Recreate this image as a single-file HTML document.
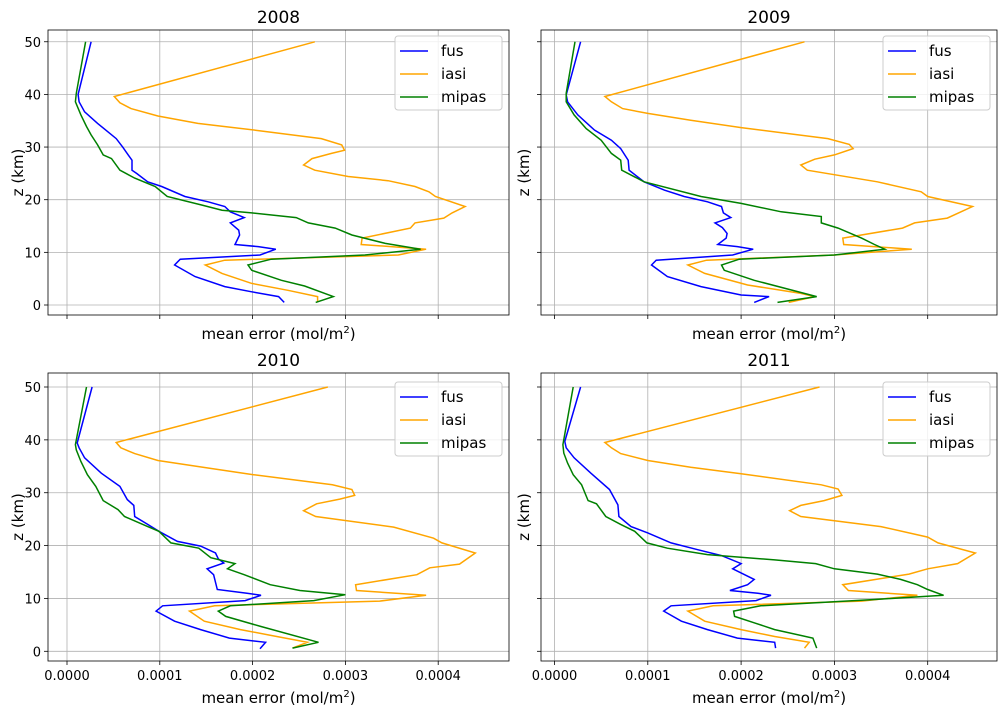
<!DOCTYPE html>
<html><head><meta charset="utf-8"><style>
html,body{margin:0;padding:0;background:#fff;}
svg{display:block;font-family:"DejaVu Sans","Liberation Sans",sans-serif;}
</style></head><body>
<svg id="chart" width="1008" height="716" viewBox="0 0 1008 716" xmlns="http://www.w3.org/2000/svg"></svg>
<script>
// values in units of 1e-4 mol/m^2, altitudes in km
const years = ["2008","2009","2010","2011"];
const xTicks = [0,1,2,3,4];
const xTickLabels = ["0.0000","0.0001","0.0002","0.0003","0.0004"];
const yTicks = [0,10,20,30,40,50];
const seriesNames = ["fus","iasi","mipas"];

const fus2008Z = [50,40,38.6,36.7,34.5,31.6,30,28.5,27.5,25.6,25,23.4,22.5,20.6,19.6,18.7,17.7,16.6,15.6,14.2,13.3,11.5,11.1,10.6,9.5,8.7,7.6,5.4,3.5,2.5,1.6,0.5];
const fus2008V = [0.26,0.12,0.13,0.19,0.33,0.53,0.60,0.66,0.70,0.70,0.75,0.87,1.02,1.27,1.52,1.70,1.76,1.91,1.76,1.85,1.86,1.81,2.06,2.25,2.08,1.22,1.16,1.38,1.70,1.99,2.28,2.34];
const iasi2008Z = [50,39.6,38.4,37.3,35.9,34.5,33.2,31.6,30.4,29.4,28.8,27.8,26.6,25.6,24.4,23.6,22.5,21.5,20.6,18.7,17.5,16.5,15.6,14.6,12.7,11.5,10.6,9.5,8.5,7.6,6,4.1,2.8,1.6,0.6];
const iasi2008V = [2.67,0.51,0.57,0.69,0.98,1.41,2.03,2.74,2.96,2.99,2.85,2.64,2.55,2.67,3.03,3.46,3.75,3.90,3.97,4.29,4.15,4.06,3.75,3.70,3.18,3.17,3.87,3.57,1.70,1.49,1.67,1.99,2.38,2.70,2.70];
const mipas2008Z = [50,40.2,38.6,36.1,33.9,32.3,30.4,28.5,27.8,25.6,24.1,22.5,20.6,19,18,17.5,16.6,15.6,14.6,13.3,11.7,10.6,9.5,8.7,7.6,6.6,4.7,3.6,1.6,0.5];
const mipas2008V = [0.20,0.10,0.09,0.15,0.21,0.26,0.33,0.39,0.48,0.57,0.73,0.95,1.08,1.45,1.67,1.99,2.47,2.60,2.89,3.07,3.43,3.81,3.21,2.20,1.95,1.99,2.31,2.56,2.87,2.68];

const fus2009Z = [50,39.9,38.6,36.1,33.2,31.3,29.7,27.5,25.6,23.4,21.8,20.6,19.6,18.7,17.5,16.6,15.6,14.7,13.6,12.7,11.5,11.1,10.6,9.5,8.5,7.6,5.4,3.5,1.9,1.6,0.5];
const fus2009V = [0.28,0.125,0.14,0.25,0.43,0.61,0.71,0.79,0.80,0.96,1.18,1.39,1.64,1.79,1.81,1.89,1.72,1.80,1.85,1.84,1.75,1.96,2.13,1.91,1.09,1.04,1.21,1.57,2.0,2.30,2.14];
const iasi2009Z = [50,39.6,38.6,37.3,36.4,35.1,33.7,31.6,30.5,29.7,28.5,27.7,26.6,25.6,23.4,21.5,20.6,18.7,16.5,15.6,14.6,12.7,11.5,10.6,9.5,8.5,7.6,6,3.8,2.2,1.6,0.5];
const iasi2009V = [2.68,0.54,0.61,0.73,1.0,1.46,2.0,2.93,3.16,3.20,3.0,2.79,2.64,2.71,3.46,3.93,4.0,4.48,4.21,3.86,3.73,3.09,3.10,3.83,3.0,1.63,1.43,1.61,2.07,2.64,2.79,2.51];
const mipas2009Z = [50,40.2,38.6,36.1,33.5,31.3,28.8,27.5,25.6,23.4,20.6,19.3,17.7,16.8,15.6,14.6,12.7,11.5,10.6,9.5,8.7,7.6,6.6,4.7,1.6,0.5];
const mipas2009V = [0.22,0.125,0.125,0.21,0.34,0.50,0.61,0.71,0.72,0.96,1.57,2.0,2.43,2.86,2.86,3.04,3.29,3.43,3.54,3.0,1.98,1.79,1.82,2.14,2.81,2.39];

const fus2010Z = [50,39.4,38.5,36.6,33.7,31.2,28.7,27.6,25.5,24,22.7,20.8,19.9,18.6,17.5,16.7,15.6,14.5,11.7,11,10.6,9.6,8.6,7.6,5.7,4.1,2.5,1.7,0.5];
const fus2010V = [0.27,0.11,0.13,0.19,0.37,0.57,0.65,0.72,0.73,0.87,0.99,1.19,1.44,1.60,1.63,1.69,1.51,1.58,1.62,1.94,2.09,1.92,1.03,0.96,1.16,1.44,1.75,2.14,2.08];
const iasi2010Z = [50,39.5,38.5,37.4,36.1,34.7,33.4,31.5,30.6,29.5,28.8,27.9,26.6,25.5,23.5,21.4,20.5,18.6,16.5,15.8,14.5,12.6,11.5,10.6,9.5,8.6,7.6,5.7,4.1,2.8,1.7,0.6];
const iasi2010V = [2.81,0.53,0.58,0.73,0.98,1.51,2.01,2.86,3.07,3.10,2.94,2.69,2.55,2.68,3.52,3.95,4.04,4.40,4.23,3.91,3.77,3.11,3.12,3.87,3.37,1.59,1.32,1.48,1.87,2.26,2.59,2.43];
const mipas2010Z = [50,39.1,38.1,35.9,33.4,31.2,28.5,26.8,25.5,23.6,22.7,20.5,19.5,17.7,16.6,15.6,14.5,12.6,11.5,10.7,9.6,8.6,7.6,6.6,4.7,1.7,0.6];
const mipas2010V = [0.21,0.09,0.10,0.15,0.22,0.31,0.39,0.55,0.62,0.87,0.99,1.12,1.42,1.55,1.81,1.73,1.91,2.19,2.51,3.0,2.66,1.76,1.63,1.71,2.09,2.71,2.43];

const fus2011Z = [50,39.7,38.5,36.6,33.7,30.6,27.7,25.5,23.6,22.4,20.5,19.2,18.1,16.6,15.6,13.6,12.6,11.5,11.0,10.6,9.6,8.6,7.6,5.7,4.1,2.5,1.7,0.6];
const fus2011V = [0.28,0.11,0.125,0.21,0.39,0.59,0.68,0.69,0.82,1.0,1.25,1.54,1.79,2.0,1.91,2.14,2.07,1.88,2.18,2.32,2.16,1.25,1.17,1.36,1.64,1.96,2.36,2.37];
const iasi2011Z = [50,39.5,38.5,37.4,36.1,34.8,33.6,31.5,30.7,29.5,28.5,27.6,26.6,25.5,23.6,21.6,20.5,18.6,16.6,15.6,14.6,12.6,11.5,10.6,9.5,8.6,7.6,5.7,4.1,2.8,1.7,0.6];
const iasi2011V = [2.84,0.54,0.61,0.71,1.0,1.46,2.0,2.86,3.04,3.08,2.89,2.64,2.52,2.64,3.50,4.0,4.11,4.51,4.32,4.0,3.80,3.09,3.15,3.89,3.29,1.70,1.43,1.61,2.0,2.36,2.73,2.68];
const mipas2011Z = [50,39.1,37.5,35.6,33.4,31.5,28.5,27.9,25.5,24.0,22.7,20.5,19.5,18.3,17.3,16.6,15.6,14.6,13.6,12.6,11.7,10.6,9.8,8.6,7.6,6.6,5.4,4.1,2.5,0.6];
const mipas2011V = [0.20,0.09,0.10,0.14,0.20,0.29,0.36,0.45,0.55,0.71,0.86,0.99,1.21,1.64,2.36,2.80,3.0,3.46,3.71,3.89,4.0,4.17,3.43,2.21,1.92,1.93,2.14,2.36,2.77,2.81];

const panelData = {
  "2008":[[fus2008V,fus2008Z],[iasi2008V,iasi2008Z],[mipas2008V,mipas2008Z]],
  "2009":[[fus2009V,fus2009Z],[iasi2009V,iasi2009Z],[mipas2009V,mipas2009Z]],
  "2010":[[fus2010V,fus2010Z],[iasi2010V,iasi2010Z],[mipas2010V,mipas2010Z]],
  "2011":[[fus2011V,fus2011Z],[iasi2011V,iasi2011Z],[mipas2011V,mipas2011Z]]
};
const colors = ["#0000ff","#ffa500","#008000"];
const NS="http://www.w3.org/2000/svg";
const svg=document.getElementById('chart');
function mk(tag,attrs,parent){const e=document.createElementNS(NS,tag);for(const k in attrs)e.setAttribute(k,attrs[k]);(parent||svg).appendChild(e);return e;}

const panels=[
  {x0:48,x1:509,y0:30,y1:315,ox:67,sx:92.8,oz:305,sz:5.265,left:true,bottom:false},
  {x0:541,x1:997,y0:30,y1:315,ox:554.5,sx:93.3,oz:305,sz:5.265,left:false,bottom:false},
  {x0:48,x1:509,y0:373,y1:661,ox:67,sx:92.8,oz:651.3,sz:5.286,left:true,bottom:true},
  {x0:541,x1:997,y0:373,y1:661,ox:554.5,sx:93.3,oz:651.3,sz:5.286,left:false,bottom:true}
];
panels.forEach((p,pi)=>{
  const yr=years[pi];
  const g=mk('g',{});
  
  
  const xs=v=>p.ox+v*p.sx, ys=z=>p.oz-z*p.sz;
  const clipId='clip'+pi;
  const cp=mk('clipPath',{id:clipId},g);mk('rect',{x:p.x0,y:p.y0,width:p.x1-p.x0,height:p.y1-p.y0},cp);
  xTicks.forEach((t,i)=>{
    const X=xs(t);
    const gl=mk('line',{x1:X,x2:X,y1:p.y0,y2:p.y1,stroke:'#b0b0b0','stroke-width':0.8},g);
    
    
    mk('line',{x1:X,x2:X,y1:p.y1,y2:p.y1+4,stroke:'#000','stroke-width':0.8},g);
    if(p.bottom){
      const tl=mk('text',{x:X,y:p.y1+19,'font-size':13,'text-anchor':'middle',fill:'#000'},g);
      tl.textContent=xTickLabels[i];
      
      
    }
  });
  yTicks.forEach(t=>{
    const Y=ys(t);
    const gl=mk('line',{x1:p.x0,x2:p.x1,y1:Y,y2:Y,stroke:'#b0b0b0','stroke-width':0.8},g);
    
    
    mk('line',{x1:p.x0-4,x2:p.x0,y1:Y,y2:Y,stroke:'#000','stroke-width':0.8},g);
    if(p.left){
      const tl=mk('text',{x:p.x0-7,y:Y+5,'font-size':13,'text-anchor':'end',fill:'#000'},g);
      tl.textContent=t;
      
      
    }
  });
  panelData[yr].forEach((s,si)=>{
    const pts=s[0].map((v,i)=>xs(v).toFixed(1)+','+ys(s[1][i]).toFixed(1)).join(' ');
    const pl=mk('polyline',{points:pts,fill:'none',stroke:colors[si],'stroke-width':1.5,'clip-path':'url(#'+clipId+')'},g);
    
    
  });
  const fr=mk('rect',{x:p.x0,y:p.y0,width:p.x1-p.x0,height:p.y1-p.y0,fill:'none',stroke:'#000','stroke-width':0.8},g);
  
  
  const ti=mk('text',{x:(p.x0+p.x1)/2,y:p.y0-7,'font-size':17,'text-anchor':'middle',fill:'#000'},g);
  ti.textContent=yr;
  
  
  const xl=mk('text',{x:(p.x0+p.x1)/2,y:p.bottom?p.y1+42:p.y1+24,'font-size':15,'text-anchor':'middle',fill:'#000'},g);
  xl.innerHTML='mean error (mol/m<tspan font-size="10" dy="-6">2</tspan><tspan dy="6">)</tspan>';
  
  
  const yc=(p.y0+p.y1)/2, yx=p.left?p.x0-25:p.x0-12;
  const yl=mk('text',{x:yx,y:yc,'font-size':15,'text-anchor':'middle',fill:'#000',transform:'rotate(-90 '+yx+' '+yc+')'},g);
  yl.textContent='z (km)';
  
  
  const lx=p.x1-114, ly=p.y0+(p.bottom?9:6);
  const lg=mk('g',{},g);
  
  
  mk('rect',{x:lx,y:ly,width:107,height:74,rx:3,fill:'#fff','fill-opacity':0.8,stroke:'#cccccc','stroke-width':1},lg);
  seriesNames.forEach((n,si)=>{
    const yy=ly+15+si*23;
    const le=mk('g',{},lg);
    
    
    mk('line',{x1:lx+5,x2:lx+33,y1:yy,y2:yy,stroke:colors[si],'stroke-width':1.5},le);
    const t=mk('text',{x:lx+46,y:yy+5,'font-size':15,fill:'#000'},le);
    t.textContent=n;
  });
});
</script>
</body></html>
